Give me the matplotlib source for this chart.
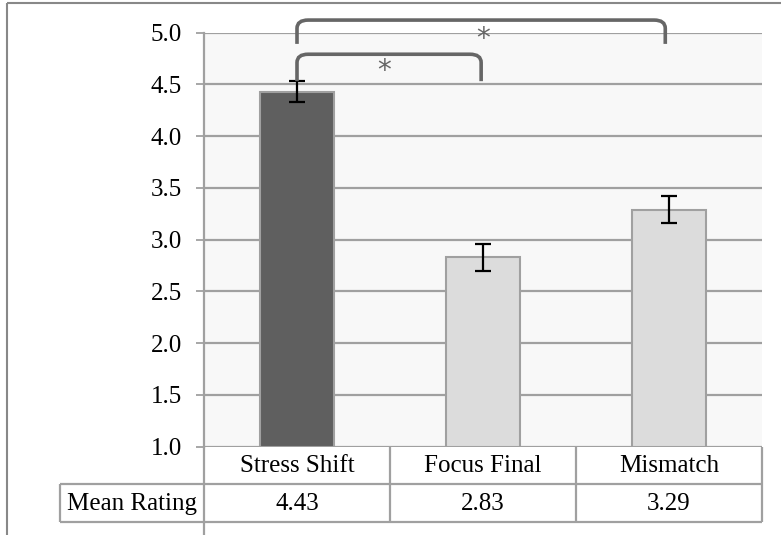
import matplotlib
matplotlib.use("Agg")
import matplotlib.pyplot as plt
from matplotlib.path import Path
from matplotlib.patches import PathPatch
from matplotlib.lines import Line2D

categories = ["Stress Shift", "Focus Final", "Mismatch"]
means = [4.43, 2.83, 3.29]
errors = [0.10, 0.13, 0.13]
row_label = "Mean Rating"
value_labels = ["4.43", "2.83", "3.29"]
yticks = [1.0, 1.5, 2.0, 2.5, 3.0, 3.5, 4.0, 4.5, 5.0]
bar_colors = ["#5f5f5f", "#dcdcdc", "#dcdcdc"]

plt.rcParams['font.family'] = ['Liberation Serif', 'DejaVu Serif']
FS = 18

W, H = 781, 535
fig = plt.figure(figsize=(W / 100, H / 100), dpi=100)

# pixel geometry
L, R, T, B = 204, 762, 32.5, 446.7
ax = fig.add_axes([L / W, 1 - B / H, (R - L) / W, (B - T) / H])
ax.set_facecolor("#f8f8f8")
ax.set_xlim(-0.5, 2.5)
ax.set_ylim(1.0, 5.0)
ax.set_yticks(yticks)
ax.set_yticklabels([f"{v:.1f}" for v in yticks])
ax.set_xticks([])
ax.grid(axis="y", color="#a0a0a0", linewidth=1.6, zorder=0)
ax.set_axisbelow(True)
for s in ["top", "right", "bottom"]:
    ax.spines[s].set_visible(False)
ax.spines["left"].set_color("#a0a0a0")
ax.spines["left"].set_linewidth(1.6)
ax.tick_params(axis="y", length=6, width=1.3, color="#a0a0a0", pad=10,
               labelsize=FS, labelcolor="black")

x = list(range(len(categories)))
ax.bar(x, [m - 1.0 for m in means], bottom=1.0, width=0.4, color=bar_colors,
       edgecolor="#a0a0a0", linewidth=1.5, zorder=2)
ax.errorbar(x, means, yerr=errors, fmt="none", ecolor="black", elinewidth=1.6,
            capsize=6, capthick=1.6, zorder=3)

# significance brackets
def bracket(x0, x1, ytop, ybot, r=0.06, ry=0.08):
    verts = [(x0, ybot), (x0, ytop - ry), (x0, ytop), (x0 + r, ytop),
             (x1 - r, ytop), (x1, ytop), (x1, ytop - ry), (x1, ybot)]
    codes = [Path.MOVETO, Path.LINETO, Path.CURVE3, Path.CURVE3,
             Path.LINETO, Path.CURVE3, Path.CURVE3, Path.LINETO]
    p = PathPatch(Path(verts, codes), facecolor="none", edgecolor="#666666",
                  linewidth=2.6, clip_on=False, zorder=4, capstyle="butt")
    ax.add_patch(p)

bracket(0.0, 1.98, 5.12, 4.89)
bracket(0.0, 0.99, 4.79, 4.53)
ax.text(1.0, 4.94, "*", ha="center", va="center", fontsize=20, color="#666666",
        family="DejaVu Sans", clip_on=False)
ax.text(0.47, 4.63, "*", ha="center", va="center", fontsize=20, color="#666666",
        family="DejaVu Sans", clip_on=False)

# overlay for table and frame (pixel coords)
ov = fig.add_axes([0, 0, 1, 1], facecolor="none")
ov.set_xlim(0, W)
ov.set_ylim(H, 0)
ov.axis("off")
lc = "#a0a0a0"
lw = 1.6
col_edges = [204, 390, 576, 762]
r0, r1, r2 = 447, 483.5, 522
label_left = 60

def ln(xs, ys, c=lc, w=lw):
    ov.add_line(Line2D(xs, ys, color=c, linewidth=w, solid_capstyle="butt"))

for xe in col_edges:
    ln([xe, xe], [r0, r2])
ln([label_left, label_left], [r1, r2])
ln([label_left, 762], [r1, r1])
ln([label_left, 762], [r2, r2])
ln([204, 204], [r2, H])
# outer chart frame
ln([7, W], [3, 3], c="#888888", w=1.5)
ln([7, 7], [3, H], c="#888888", w=1.5)

for i, (c, v) in enumerate(zip(categories, value_labels)):
    cx = (col_edges[i] + col_edges[i + 1]) / 2
    ov.text(cx, (r0 + r1) / 2 + 1, c, ha="center", va="center", fontsize=FS)
    ov.text(cx, (r1 + r2) / 2 + 1, v, ha="center", va="center", fontsize=FS)
ov.text(197, (r1 + r2) / 2 + 1, row_label, ha="right",
        va="center", fontsize=FS)

fig.savefig("out.png", dpi=100)
